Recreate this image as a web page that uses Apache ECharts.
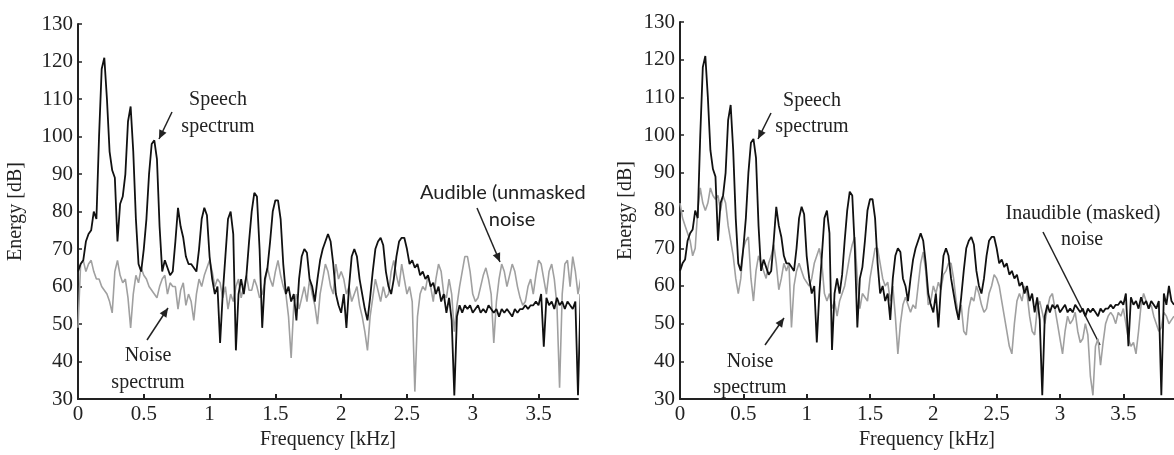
<!DOCTYPE html>
<html>
<head>
<meta charset="utf-8">
<script src="https://cdn.jsdelivr.net/npm/echarts@6/dist/echarts.min.js"></script>
<style>
  html, body { margin: 0; padding: 0; background: #fff; }
  #chart { width: 1174px; height: 455px; }
</style>
</head>
<body>
<div id="chart"></div>
<script>
// frequency grid (kHz), one sample every 0.02 kHz from 0 to 3.9
const freqStep = 0.02
const freqCount = 196

const yTicks = [30, 40, 50, 60, 70, 80, 90, 100, 110, 120, 130]

// speech spectrum [dB] (black line, same in both panels)
const speechDb = [
  64, 66, 67, 72, 74, 75, 80, 78, 100, 118,
  121, 110, 96, 91, 89, 72, 82, 84, 90, 104,
  108, 96, 78, 66, 64, 70, 78, 90, 98, 99,
  94, 76, 64, 67, 65, 63, 64, 72, 81, 76,
  73, 68, 66, 66, 65, 64, 70, 78, 81, 79,
  68, 62, 58, 60, 45, 58, 68, 78, 80, 74,
  43, 58, 62, 58, 63, 72, 80, 85, 84, 70,
  49, 62, 65, 72, 80, 83, 83, 78, 66, 58,
  60, 56, 58, 51, 62, 68, 70, 69, 62, 60,
  56, 62, 67, 70, 72, 74, 72, 66, 58, 55,
  53, 58, 49, 60, 68, 70, 68, 62, 58, 54,
  51, 57, 64, 70, 72, 73, 71, 64, 60, 58,
  62, 68, 72, 73, 73, 70, 66, 67, 65, 66,
  63, 64, 62, 63, 60, 61, 58, 60, 56, 58,
  53, 57, 51, 31, 52, 55, 53, 55, 54, 55,
  53, 54, 55, 53, 54, 53, 55, 54, 53, 54,
  52, 54, 53, 54, 53, 52, 54, 53, 54, 54,
  55, 54, 55, 55, 56, 55, 58, 44, 57, 55,
  56, 54, 57, 55, 56, 54, 56, 55, 54, 56,
  31, 58, 55, 60, 56, 55
]

// noise spectrum [dB], left panel (audible, not masked)
const noiseAudibleDb = [
  49, 66, 67, 64, 66, 67, 64, 62, 62, 60,
  59, 58, 56, 53, 64, 67, 63, 61, 62, 57,
  49, 58, 63, 61, 65, 63, 62, 60, 59, 58,
  57, 60, 62, 63, 58, 61, 60, 60, 54, 59,
  61, 55, 58, 56, 51, 58, 62, 60, 63, 65,
  67, 64, 60, 62, 61, 57, 60, 54, 58, 56,
  60, 62, 57, 60, 63, 59, 59, 62, 60, 57,
  58, 61, 65, 62, 60, 64, 67, 63, 60, 58,
  52, 41, 55, 58, 54, 57, 60, 56, 62, 58,
  55, 50, 58, 62, 66, 64, 60, 58, 66, 62,
  64, 62, 58, 60, 56, 58, 60, 55, 52, 48,
  43, 52, 57, 62, 59, 56, 60, 57, 58, 64,
  67, 63, 60, 66, 62, 58, 60, 56, 32, 52,
  58, 60, 59, 63, 60, 56, 62, 66, 64, 58,
  57, 62, 58, 48, 55, 60, 64, 68, 68, 64,
  58, 56, 57, 60, 63, 65, 62, 58, 45, 56,
  62, 66, 64, 60, 63, 66, 64, 60, 57, 55,
  56, 60, 62, 58, 63, 67, 66, 62, 58, 64,
  66, 62, 55, 33, 58, 66, 67, 60, 68, 64,
  58, 62, 66, 60, 64, 66
]

// noise spectrum [dB], right panel (inaudible, masked)
const noiseMaskedDb = [
  82, 78, 76, 74, 72, 68, 70, 80, 86, 82,
  80, 82, 86, 84, 83, 84, 80, 84, 82, 76,
  72, 68, 62, 58, 62, 70, 72, 73, 62, 56,
  64, 68, 66, 64, 62, 66, 68, 71, 66, 59,
  62, 66, 64, 66, 49, 60, 64, 66, 64, 62,
  61, 60, 62, 66, 68, 70, 66, 58, 56, 58,
  54, 56, 52, 56, 58, 60, 64, 68, 71, 73,
  62, 54, 58, 57, 56, 62, 66, 70, 70, 66,
  62, 60, 61, 56, 60, 52, 42, 50, 55, 57,
  55, 53, 55, 54, 60, 66, 69, 64, 55, 56,
  60, 58, 61, 59, 63, 64, 66, 66, 62, 56,
  52, 55, 48, 47, 54, 57, 56, 60, 58, 55,
  53, 54, 58, 60, 63, 62, 60, 56, 52, 48,
  44, 42, 50, 56, 58, 56, 60, 58, 52, 48,
  47, 54, 56, 53, 50, 54, 57, 58, 54, 50,
  46, 42, 48, 52, 50, 51, 53, 48, 45, 46,
  50, 47, 36, 31, 44, 46, 39, 45, 50, 52,
  53, 52, 50, 53, 52, 54, 50, 46, 44, 45,
  42, 48, 55, 58, 56, 54, 55, 52, 50, 48,
  49, 53, 52, 50, 51, 52
]

const freqs = []
for (let i = 0; i < freqCount; i++) freqs.push(+(i * freqStep).toFixed(2))

const pairs = (vals) => vals.map((v, i) => [freqs[i], v])

const textColor = '#222'
const serif = 'Liberation Serif'

function arrow(x1, y1, x2, y2, head) {
  const els = [{
    type: 'line',
    shape: { x1: x1, y1: y1, x2: x2, y2: y2 },
    style: { stroke: '#222', lineWidth: 1.5 }
  }]
  if (head) {
    const a = Math.atan2(y2 - y1, x2 - x1)
    const len = 9, w = 4
    const bx = x2 - len * Math.cos(a), by = y2 - len * Math.sin(a)
    els.push({
      type: 'polygon',
      shape: { points: [[x2, y2], [bx + w * Math.sin(a), by - w * Math.cos(a)], [bx - w * Math.sin(a), by + w * Math.cos(a)]] },
      style: { fill: '#222' }
    })
  }
  return els
}

function label(text, x, y, align, font) {
  return {
    type: 'text',
    x: x, y: y,
    style: {
      text: text,
      fill: textColor,
      font: '20px "' + (font || serif) + '"',
      textAlign: align || 'center',
      textVerticalAlign: 'middle'
    }
  }
}

function xAxisCfg(gridIndex, max) {
  return {
    type: 'value', gridIndex: gridIndex, min: 0, max: max, interval: 0.5,
    name: 'Frequency [kHz]', nameLocation: 'middle', nameGap: 28,
    nameTextStyle: { fontFamily: serif, fontSize: 20, color: textColor },
    axisLine: { lineStyle: { color: '#222', width: 2 } },
    axisTick: { inside: true, length: 5, lineStyle: { color: '#222', width: 2 } },
    axisLabel: { fontFamily: serif, fontSize: 21, color: textColor, margin: 5, showMaxLabel: false },
    splitLine: { show: false }
  }
}

function yAxisCfg(gridIndex, nameGap) {
  return {
    type: 'value', gridIndex: gridIndex, min: yTicks[0], max: yTicks[yTicks.length - 1], interval: 10,
    name: 'Energy [dB]', nameLocation: 'middle', nameGap: nameGap,
    nameTextStyle: { fontFamily: serif, fontSize: 20, color: textColor },
    axisLine: { show: true, lineStyle: { color: '#222', width: 2 } },
    axisTick: { show: true, inside: true, length: 4, lineStyle: { color: '#222', width: 1.5 } },
    axisLabel: { fontFamily: serif, fontSize: 21, color: textColor, margin: 5 },
    splitLine: { show: false }
  }
}

function lineSeries(idx, data, color, width) {
  return {
    type: 'line', xAxisIndex: idx, yAxisIndex: idx, data: data,
    showSymbol: false, clip: true,
    lineStyle: { color: color, width: width }
  }
}

const chart = echarts.init(document.getElementById('chart'))
chart.setOption({
  animation: false,
  backgroundColor: '#fff',
  grid: [
    { left: 78, top: 24, width: 500, height: 379 },
    { left: 680, top: 22, width: 494, height: 385 }
  ],
  xAxis: [xAxisCfg(0, 3.8), xAxisCfg(1, 3.9)],
  yAxis: [yAxisCfg(0, 52), yAxisCfg(1, 44)],
  series: [
    lineSeries(0, pairs(noiseAudibleDb), '#a0a0a0', 1.6),
    lineSeries(0, pairs(speechDb), '#111', 1.8),
    lineSeries(1, pairs(noiseMaskedDb), '#a0a0a0', 1.6),
    lineSeries(1, pairs(speechDb), '#111', 1.8)
  ],
  graphic: [
    // left panel
    label('Speech', 218, 100),
    label('spectrum', 218, 127),
    ...arrow(172, 112, 159, 139, true),
    label('Noise', 148, 356),
    label('spectrum', 148, 383),
    ...arrow(147, 340, 168, 308, true),
    label('Audible (unmasked', 420, 193, 'left', 'Lato'),
    label('noise', 512, 220, 'center', 'Lato'),
    ...arrow(477, 208, 500, 262, true),
    // right panel
    label('Speech', 812, 101),
    label('spectrum', 812, 127),
    ...arrow(771, 113, 758, 139, true),
    label('Noise', 750, 362),
    label('spectrum', 750, 388),
    ...arrow(765, 345, 784, 318, true),
    label('Inaudible (masked)', 1083, 214),
    label('noise', 1082, 240),
    ...arrow(1043, 232, 1100, 345, false)
  ]
})
</script>
</body>
</html>
